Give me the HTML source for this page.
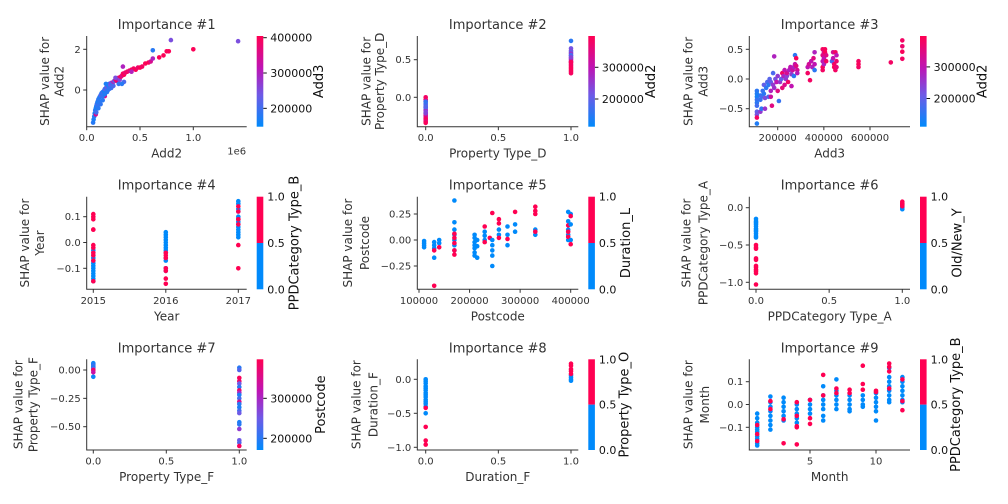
<!DOCTYPE html>
<html><head><meta charset="utf-8"><style>
html,body{margin:0;padding:0;background:#fff}
svg{display:block;font-family:"DejaVu Sans","Liberation Sans",sans-serif}
</style></head><body>
<svg id="fig" width="1008" height="504" viewBox="0 0 1008 504" xmlns="http://www.w3.org/2000/svg">
<defs>
<linearGradient id="rb" x1="0" y1="1" x2="0" y2="0">
<stop offset="0" stop-color="rgb(0,138,251)"/><stop offset="0.35" stop-color="rgb(110,90,230)"/>
<stop offset="0.65" stop-color="rgb(190,20,180)"/><stop offset="1" stop-color="rgb(255,0,82)"/>
</linearGradient>
</defs>
<rect width="1008" height="504" fill="#fff"/>
</svg>
<script>
// ---- data (x, y, colour-feature value) ----
const p1x=[60,65,70,75,80,85,90,95,100,105,110,120,130,140,150,160,170,180,190,200,210,220,230,240,250,260,270,280,290,300,310,320,330,340,350,360,380,400,420,440,460,480,500,520,550,580,600,620,680,720,750,770,790,1000,1420,620,340,270,180,230,300,350,420,170,120,85,90,100,150,200,250,330,110,130,150,170,190,210];
const p1y=[-1.6,-1.45,-1.3,-1.15,-1.0,-0.9,-0.8,-0.7,-0.6,-0.55,-0.45,-0.35,-0.25,-0.15,-0.1,-0.05,0.05,0.1,0.15,0.2,0.3,0.25,0.35,0.3,0.4,0.45,0.5,0.45,0.55,0.6,0.5,0.65,0.7,0.8,0.75,0.85,0.9,0.95,1.0,1.05,1.0,1.1,1.1,1.15,1.3,1.35,1.4,1.55,1.6,1.7,1.9,1.9,2.45,2.0,2.4,1.95,1.15,0.6,0.3,0.1,0.3,0.4,0.9,-0.3,-0.6,-1.2,-1.1,-0.8,-0.3,0,0.2,0.3,-0.9,-0.7,-0.5,-0.2,-0.1,0.05];
const p1c=[180,170,175,160,190,170,165,200,180,170,185,175,210,180,200,170,220,190,250,180,200,230,260,200,300,220,350,380,320,390,260,380,360,390,400,380,390,370,400,390,400,380,400,390,400,400,350,300,400,400,400,400,250,400,250,180,300,250,170,200,190,210,300,350,180,350,200,190,190,190,210,180,180,185,180,175,180,190];
const p2x=[0,0,0,0,0,0,0,0,0,0,0,0,0,0,0,0,0,0,0,0,1,1,1,1,1,1,1,1,1,1,1,1,1,1,1,1,1,1,1,1];
const p2y=[0,-0.03,-0.05,-0.08,-0.1,-0.12,-0.14,-0.16,-0.18,-0.2,-0.22,-0.24,-0.26,-0.28,-0.3,-0.32,-0.34,-0.13,-0.06,-0.21,0.75,0.65,0.62,0.6,0.58,0.55,0.52,0.5,0.48,0.46,0.44,0.42,0.4,0.38,0.36,0.34,0.32,0.56,0.53,0.47];
const p2c=[380,390,300,180,200,170,250,200,280,220,300,350,320,380,390,360,390,190,160,240,150,220,230,200,260,250,300,280,320,350,370,380,390,390,395,390,385,180,240,390];
const p3x=[110,110,110,110,110,110,110,110,110,110,125,125,125,130,130,135,140,140,145,145,150,155,160,160,165,170,170,170,175,180,180,185,185,190,195,200,200,205,210,215,220,220,225,230,230,235,240,240,245,250,255,260,260,265,270,270,275,275,280,280,285,285,330,330,335,340,345,350,355,360,360,360,395,395,395,395,395,400,400,400,405,405,410,410,435,440,440,445,445,450,450,455,455,455,550,550,550,690,740,740,740,740];
const p3y=[-0.2,-0.25,-0.3,-0.35,-0.4,-0.45,-0.55,-0.6,-0.65,-0.75,-0.28,-0.35,-0.55,-0.3,-0.5,-0.2,-0.1,-0.25,-0.32,-0.5,-0.15,-0.05,-0.1,-0.3,0,-0.05,-0.2,-0.3,-0.45,-0.1,0.1,0.38,-0.15,0,-0.05,0.05,-0.2,-0.37,-0.05,0,0.1,-0.15,0.05,-0.1,0.15,0,0.05,0.1,-0.05,0.15,0.2,0.08,-0.12,0.15,0.2,0.05,0.4,0.25,0.22,0.35,0.15,0.1,0.2,0.1,0.25,-0.02,0.3,0.2,0.35,0.45,0.15,0.25,0.5,0.4,0.3,0.2,0.15,0.45,0.35,0.25,0.5,0.45,0.3,0.4,0.3,0.45,0.35,0.25,0.2,0.15,0.45,0.3,0.2,0.4,0.3,0.25,0.2,0.28,0.65,0.55,0.46,0.34];
const p3c=[150,140,130,160,150,170,200,220,380,140,150,160,250,170,150,160,200,150,230,260,150,180,150,180,190,200,280,320,350,250,180,280,260,220,300,250,350,160,260,200,380,360,280,340,300,250,240,330,380,280,300,250,300,320,280,150,150,310,350,390,330,290,300,380,330,380,300,280,350,280,150,300,380,350,300,390,380,330,300,280,390,390,380,350,180,330,300,380,390,380,380,370,360,300,380,390,380,380,380,370,390,380];
const p4x=[2015,2015,2015,2015,2015,2015,2015,2015,2015,2015,2015,2015,2015,2015,2015,2015,2015,2015,2015,2015,2015,2015,2015,2016,2016,2016,2016,2016,2016,2016,2016,2016,2016,2016,2016,2016,2016,2016,2016,2016,2016,2016,2016,2017,2017,2017,2017,2017,2017,2017,2017,2017,2017,2017,2017,2017,2017,2017,2017,2017,2017,2017,2017];
const p4y=[-0.03,-0.05,-0.06,-0.08,-0.09,-0.1,-0.11,-0.12,-0.13,-0.14,-0.15,-0.07,0.11,0.1,0.09,0.05,0.05,-0.01,-0.02,-0.04,-0.05,-0.07,-0.15,0.04,0.03,0.02,0.01,0,-0.01,-0.02,-0.03,-0.04,-0.06,-0.07,-0.1,-0.11,-0.04,-0.05,-0.06,-0.1,-0.11,-0.14,-0.16,0.16,0.15,0.13,0.12,0.1,0.09,0.08,0.07,0.06,0.05,0.04,0.03,0.02,0.14,0.12,0.09,0.09,0.07,-0.01,-0.1];
const p4c=[0,0,0,0,0,0,0,0,0,0,0,0,1,1,1,1,1,1,1,1,1,1,1,0,0,0,0,0,0,0,0,0,0,0,0,0,1,1,1,1,1,1,1,0,0,0,0,0,0,0,0,0,0,0,0,0,1,1,1,1,1,1,1];
const p5x=[110,110,110,110,130,130,130,130,130,130,140,140,140,170,170,170,170,170,170,170,170,170,170,170,170,210,210,210,210,210,210,210,215,215,215,230,230,230,230,230,240,245,245,245,245,245,245,258,258,258,258,258,275,275,275,275,290,290,290,330,330,330,330,330,330,395,395,395,395,395,395,395,395,400,400,400,400,400];
const p5y=[-0.01,-0.03,-0.05,-0.07,-0.02,-0.05,-0.08,-0.17,-0.1,-0.44,0,-0.03,-0.07,0.38,0.17,0.1,0.05,0,-0.05,-0.1,0.06,0.02,-0.03,-0.1,-0.14,0.05,0.02,-0.02,-0.05,-0.08,-0.12,-0.15,0.0,-0.06,-0.17,0.08,0.04,0,0.13,-0.02,0.02,0,-0.05,-0.1,-0.15,-0.25,0.26,0.1,0.05,0.2,0.16,0.02,0.13,0.05,-0.05,0.01,0.15,0.08,0.27,0.1,0.05,0.32,0.28,0.25,0.08,0.18,0.1,0.05,0,0.27,0.14,0.08,0.03,0.25,0.15,0,0.23,-0.04];
const p5c=[0,0,0,0,0,0,0,0,1,1,0,0,1,0,0,0,0,0,0,0,1,1,1,1,1,0,0,0,0,0,0,0,0,0,0,0,0,0,1,1,1,0,0,0,0,0,1,0,0,1,1,1,0,0,0,1,0,0,1,0,0,1,1,1,1,0,0,0,0,0,1,1,1,0,0,0,1,1];
const p6x=[0,0,0,0,0,0,0,0,0,0,0,0,0,0,0,0,0,0,0,0,0,0,1,1,1,1,1,1,1,1];
const p6y=[-0.15,-0.18,-0.2,-0.22,-0.25,-0.28,-0.3,-0.32,-0.35,-0.38,-0.4,-0.5,-0.53,-0.55,-0.68,-0.7,-0.78,-0.8,-0.83,-0.85,-0.88,-1.03,0,0.03,0.05,-0.02,0.08,0.06,0.04,0.02];
const p6c=[0,0,0,0,0,0,0,0,0,0,0,1,1,1,1,1,1,1,1,1,1,1,0,0,0,0,1,1,1,1];
const p7x=[0,0,0,0,0,0,0,0,0,1,1,1,1,1,1,1,1,1,1,1,1,1,1,1,1,1,1,1,1,1];
const p7y=[0.06,0.05,0.04,0.03,0.02,0.01,0,-0.02,-0.06,0.02,0,-0.07,-0.1,-0.12,-0.15,-0.18,-0.2,-0.22,-0.25,-0.28,-0.3,-0.33,-0.36,-0.38,-0.46,-0.48,-0.52,-0.62,-0.64,-0.67];
const p7c=[180,190,200,220,180,250,380,330,180,200,230,390,380,250,200,380,300,190,220,350,200,190,220,250,190,200,280,250,230,390];
const p8x=[0,0,0,0,0,0,0,0,0,0,0,0,0,0,0,0,0,0,1,1,1,1,1,1,1,1,1];
const p8y=[0,-0.03,-0.06,-0.1,-0.13,-0.16,-0.2,-0.23,-0.26,-0.3,-0.33,-0.36,-0.4,-0.5,-0.42,-0.7,-0.9,-0.96,0.06,0.03,0,-0.02,0.23,0.2,0.15,0.12,0.08];
const p8c=[0,0,0,0,0,0,0,0,0,0,0,0,0,0,1,1,1,1,0,0,0,0,1,1,1,1,1];
const p9x=[1,1,1,1,1,1,1,1,1,1,1,1,1,2,2,2,2,2,2,2,2,2,2,3,3,3,3,3,3,3,3,4,4,4,4,4,4,4,4,4,4,5,5,5,5,5,5,5,6,6,6,6,6,6,6,6,6,7,7,7,7,7,7,7,7,8,8,8,8,8,8,8,9,9,9,9,9,9,9,10,10,10,10,10,10,10,10,11,11,11,11,11,11,11,11,11,11,11,11,12,12,12,12,12,12,12,12,12,12];
const p9y=[-0.04,-0.06,-0.08,-0.1,-0.11,-0.12,-0.14,-0.15,-0.17,-0.18,-0.09,-0.13,-0.16,0.035,0.01,-0.01,-0.03,-0.05,-0.07,-0.09,-0.11,0.015,-0.02,0.03,0.01,-0.01,-0.03,-0.05,-0.07,-0.065,-0.17,0,-0.02,-0.04,-0.06,-0.08,0.01,-0.05,-0.1,-0.095,-0.175,0.02,0,-0.02,-0.04,0.02,-0.06,-0.085,0.08,0.04,0.02,0,-0.02,-0.05,-0.07,0.13,0.04,0.11,0.06,0.04,0.02,0,-0.02,0.07,0.05,0.04,0.02,0,-0.02,-0.03,0.065,0.05,0.04,0.02,0,-0.01,0.17,0.09,0.065,0.05,0.03,0.01,-0.01,-0.03,-0.07,0.06,0.055,0.16,0.12,0.1,0.08,0.06,0.04,0.02,0.01,0.18,0.165,0.145,0.07,0.12,0.1,0.08,0.06,0.04,0.02,0.01,0.11,0.015,-0.025];
const p9c=[0,0,0,0,0,0,0,0,0,0,1,1,1,0,0,0,0,0,0,0,0,1,1,0,0,0,0,0,0,1,1,0,0,0,0,0,1,1,1,1,1,0,0,0,0,1,1,1,0,0,0,0,0,0,0,1,1,0,0,0,0,0,0,1,1,0,0,0,0,0,1,1,0,0,0,0,1,1,1,0,0,0,0,0,0,1,1,0,0,0,0,0,0,0,0,1,1,1,1,0,0,0,0,0,0,0,1,1,1];

// ---- tick values / labels ----
const p1XTicks=[0,500,1000], p1XLabels=["0.0","0.5","1.0"], p1YTicks=[0,2], p1YLabels=["0","2"];
const p2XTicks=[0,0.5,1], p2XLabels=["0.0","0.5","1.0"], p2YTicks=[0,0.5], p2YLabels=["0.0","0.5"];
const p3XTicks=[200,400,600], p3XLabels=["200000","400000","600000"], p3YTicks=[-0.5,0,0.5], p3YLabels=["\u22120.5","0.0","0.5"];
const p4XTicks=[2015,2016,2017], p4XLabels=["2015","2016","2017"], p4YTicks=[-0.1,0,0.1], p4YLabels=["\u22120.1","0.0","0.1"];
const p5XTicks=[100,200,300,400], p5XLabels=["100000","200000","300000","400000"], p5YTicks=[-0.25,0,0.25], p5YLabels=["\u22120.25","0.00","0.25"];
const p6XTicks=[0,0.5,1], p6XLabels=["0.0","0.5","1.0"], p6YTicks=[-1,-0.5,0], p6YLabels=["\u22121.0","\u22120.5","0.0"];
const p7XTicks=[0,0.5,1], p7XLabels=["0.0","0.5","1.0"], p7YTicks=[-0.5,-0.25,0], p7YLabels=["\u22120.50","\u22120.25","0.00"];
const p8XTicks=[0,0.5,1], p8XLabels=["0.0","0.5","1.0"], p8YTicks=[-1,-0.5,0], p8YLabels=["\u22121.0","\u22120.5","0.0"];
const p9XTicks=[5,10], p9XLabels=["5","10"], p9YTicks=[-0.1,0,0.1], p9YLabels=["\u22120.1","0.0","0.1"];
const contTicks=[200,300,400], contLabels=["200000","300000","400000"];
const binTicks=[0,0.5,1], binLabels=["0.0","0.5","1.0"];

const NS="http://www.w3.org/2000/svg";
const svg=document.getElementById('fig');
function mk(tag,attrs,parent){const e=document.createElementNS(NS,tag);for(const k in attrs)e.setAttribute(k,attrs[k]);(parent||svg).appendChild(e);return e;}
function lin(v0,p0,v1,p1){return v=>p0+(v-v0)*(p1-p0)/(v1-v0);}
const stops=[[0,[0,138,251]],[0.35,[110,90,230]],[0.65,[190,20,180]],[1,[255,0,82]]];
function cmap(t){t=Math.max(0,Math.min(1,t));for(let i=1;i<stops.length;i++){if(t<=stops[i][0]){const a=stops[i-1],b=stops[i],f=(t-a[0])/(b[0]-a[0]);return 'rgb('+a[1].map((c,j)=>Math.round(c+(b[1][j]-c)*f)).join(',')+')';}}return 'rgb(255,0,82)';}

const panels=[
 {id:1,x:p1x,y:p1y,c:p1c,box:[86.7,246.7,36,126.7],xc:[0,86.7,1000,193.3],yc:[0,90,2,49.3],xt:p1XTicks,xl:p1XLabels,yt:p1YTicks,yl:p1YLabels,cb:[256.7,148,404.8],ttl:"Importance #1",xlab:"Add2",yl1:"SHAP value for",yl2:"Add2",ylx:[45,59.5],cbl:"Add3",cblx:318,off:"1e6"},
 {id:2,x:p2x,y:p2y,c:p2c,box:[417.3,578.3,36,126.7],xc:[0,425.7,1,571],yc:[0,97.3,0.5,59.7],xt:p2XTicks,xl:p2XLabels,yt:p2YTicks,yl:p2YLabels,cb:[588.3,112.6,398.7],ttl:"Importance #2",xlab:"Property Type_D",yl1:"SHAP value for",yl2:"Property Type_D",ylx:[366.7,380],cbl:"Add2",cblx:650},
 {id:3,x:p3x,y:p3y,c:p3c,box:[749.3,910,36,126.7],xc:[200,777.7,600,870],yc:[0,79,0.5,49.3],xt:p3XTicks,xl:p3XLabels,yt:p3YTicks,yl:p3YLabels,cb:[920,110.7,397.8],ttl:"Importance #3",xlab:"Add3",yl1:"SHAP value for",yl2:"Add3",ylx:[688.3,703.3],cbl:"Add2",cblx:981.7},
 {id:4,x:p4x,y:p4y,c:p4c,box:[86.7,246.7,196.7,289.3],xc:[2015,93.3,2017,238.3],yc:[0.1,216.7,-0.1,268.3],xt:p4XTicks,xl:p4XLabels,yt:p4YTicks,yl:p4YLabels,cb:[256.7,null,null],ttl:"Importance #4",xlab:"Year",yl1:"SHAP value for",yl2:"Year",ylx:[25,40],cbl:"PPDCategory Type_B",cblx:293.3},
 {id:5,x:p5x,y:p5y,c:p5c,box:[417.3,578.3,196.7,289.3],xc:[100,419,400,570.7],yc:[0.25,214,0,240],xt:p5XTicks,xl:p5XLabels,yt:p5YTicks,yl:p5YLabels,cb:[588.3,null,null],ttl:"Importance #5",xlab:"Postcode",yl1:"SHAP value for",yl2:"Postcode",ylx:[348,365],cbl:"Duration_L",cblx:625},
 {id:6,x:p6x,y:p6y,c:p6c,box:[749.3,910,196.7,289.3],xc:[0,756,1,902.3],yc:[0,207.7,-1,282.3],xt:p6XTicks,xl:p6XLabels,yt:p6YTicks,yl:p6YLabels,cb:[920,null,null],ttl:"Importance #6",xlab:"PPDCategory Type_A",yl1:"SHAP value for",yl2:"PPDCategory Type_A",ylx:[686.7,703.3],cbl:"Old/New_Y",cblx:956.7},
 {id:7,x:p7x,y:p7y,c:p7c,box:[86.7,246.7,359.3,450],xc:[0,93.3,1,239.3],yc:[0,370,-0.5,426.7],xt:p7XTicks,xl:p7XLabels,yt:p7YTicks,yl:p7YLabels,cb:[256.7,170.8,397.5],ttl:"Importance #7",xlab:"Property Type_F",yl1:"SHAP value for",yl2:"Property Type_F",ylx:[18.3,33.3],cbl:"Postcode",cblx:320},
 {id:8,x:p8x,y:p8y,c:p8c,box:[417.3,578.3,359.3,450],xc:[0,425.7,1,571],yc:[0,379.3,-1,447.3],xt:p8XTicks,xl:p8XLabels,yt:p8YTicks,yl:p8YLabels,cb:[588.3,null,null],ttl:"Importance #8",xlab:"Duration_F",yl1:"SHAP value for",yl2:"Duration_F",ylx:[356.7,373.3],cbl:"Property Type_O",cblx:623.3},
 {id:9,x:p9x,y:p9y,c:p9c,box:[749.3,910,359.3,450],xc:[5,810,10,876],yc:[0.1,381.7,-0.1,427.3],xt:p9XTicks,xl:p9XLabels,yt:p9YTicks,yl:p9YLabels,cb:[920,null,null],ttl:"Importance #9",xlab:"Month",yl1:"SHAP value for",yl2:"Month",ylx:[688.3,705],cbl:"PPDCategory Type_B",cblx:955}
];
const TXT="#333333";
panels.forEach(p=>{
 const [L,R,T,B]=p.box;
 const g=mk('g',{});
 
 
 const sx=lin(...p.xc), sy=lin(...p.yc);
 const binary=p.cb[1]===null;
 const cnorm=binary?(v=>v):(v=>(v-p.cb[1])/(p.cb[2]-p.cb[1]));
 const t=mk('text',{x:(L+R)/2,y:T-7,'text-anchor':'middle','font-size':13,fill:TXT},g);t.textContent=p.ttl;
 
 
 const pg=mk('g',{},g);
 
 
 for(let i=0;i<p.x.length;i++){
  const c=mk('circle',{cx:sx(p.x[i]).toFixed(1),cy:sy(p.y[i]).toFixed(1),r:2.3,fill:binary?(p.c[i]>=0.5?'rgb(255,0,82)':'rgb(0,138,251)'):cmap(cnorm(p.c[i]))},pg);
  
  
 }
 const sp=mk('path',{d:`M${L},${T}V${B}H${R}`,stroke:TXT,'stroke-width':1,fill:'none'},g);
 
 
 p.xt.forEach((v,i)=>{const X=sx(v);mk('line',{x1:X,x2:X,y1:B,y2:B+3.5,stroke:TXT},g);
  const e=mk('text',{x:X,y:B+14.5,'text-anchor':'middle','font-size':10,fill:TXT},g);e.textContent=p.xl[i];
  
  });
 p.yt.forEach((v,i)=>{const Y=sy(v);mk('line',{x1:L-3.5,x2:L,y1:Y,y2:Y,stroke:TXT},g);
  const e=mk('text',{x:L-6,y:Y+3.5,'text-anchor':'end','font-size':10,fill:TXT},g);e.textContent=p.yl[i];
  
  });
 const xl=mk('text',{x:(L+R)/2,y:B+31,'text-anchor':'middle','font-size':12,fill:TXT},g);xl.textContent=p.xlab;
 
 
 if(p.off){const o=mk('text',{x:R-10,y:B+28,'text-anchor':'middle','font-size':10,fill:TXT},g);o.textContent=p.off;
  
  }
 const my=(T+B)/2;
 [[p.ylx[0],p.yl1],[p.ylx[1],p.yl2]].forEach(([x,s])=>{const e=mk('text',{x:0,y:0,transform:`translate(${x+4},${my}) rotate(-90)`,'text-anchor':'middle','font-size':12,fill:TXT},g);e.textContent=s;
  
  });
 const cx=p.cb[0], cw=6.6;
 const cbg=mk('g',{},g);
 
 
 let cs;
 if(binary){const mid=(T+B)/2;mk('rect',{x:cx,y:T,width:cw,height:mid-T,fill:'rgb(255,0,82)'},cbg);mk('rect',{x:cx,y:mid,width:cw,height:B-mid,fill:'rgb(0,138,251)'},cbg);cs=lin(0,B,1,T);
  binTicks.forEach((v,i)=>{const Y=cs(v);const e=mk('text',{x:cx+cw+4,y:Y+4,'font-size':11,fill:'#111'},cbg);e.textContent=binLabels[i];
   
   });
 } else {mk('rect',{x:cx,y:T,width:cw,height:B-T,fill:'url(#rb)'},cbg);cs=lin(p.cb[1],B,p.cb[2],T);
  contTicks.forEach((v,i)=>{const Y=cs(v);if(Y<T-0.1||Y>B+0.1)return;mk('line',{x1:cx+cw,x2:cx+cw+3.5,y1:Y,y2:Y,stroke:'#111'},cbg);
   const e=mk('text',{x:cx+cw+7,y:Y+4,'font-size':11,fill:'#111'},cbg);e.textContent=contLabels[i];
   
   });}
 const cl=mk('text',{x:0,y:0,transform:`translate(${p.cblx+5},${my}) rotate(-90)`,'text-anchor':'middle','font-size':13,fill:'#111'},g);cl.textContent=p.cbl;
 
 
});
</script>
</body></html>
